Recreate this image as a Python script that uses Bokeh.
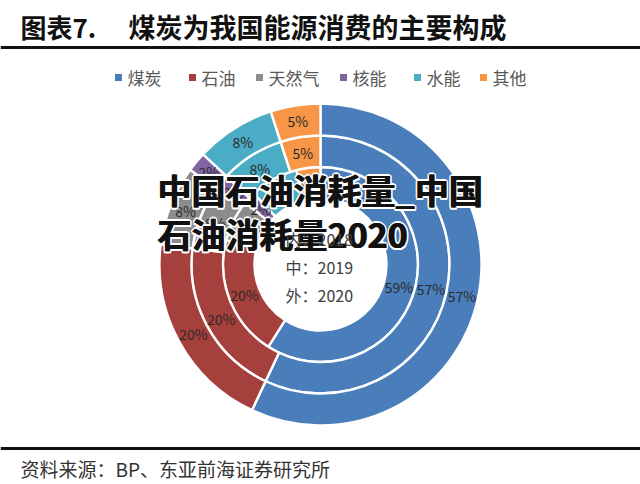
import numpy as np
from bokeh.plotting import figure
from bokeh.models import ColumnDataSource, Range1d
from bokeh.core.properties import value
from bokeh.embed import file_html
from bokeh.resources import INLINE

# ---------------- data ----------------
categories = ["煤炭", "石油", "天然气", "核能", "水能", "其他"]
years = ["2018", "2019", "2020"]
ring_names = ["内", "中", "外"]
share_2018 = [59, 20, 7, 2, 8, 4]
share_2019 = [57, 20, 8, 2, 8, 5]
share_2020 = [57, 20, 8, 2, 8, 5]
title_prefix = "图表7."
title_main = "煤炭为我国能源消费的主要构成"
source_text = "资料来源：BP、东亚前海证券研究所"
watermark_lines = ["中国石油消耗量_中国", "石油消耗量2020"]

# ---------------- style / layout ----------------
colors = ["#4A7EBB", "#A5403C", "#8C8C8C", "#8064A2", "#4BACC6", "#F79646"]
W, H = 640, 484
CX, CY = 320, H - 264
radii = [66, 97.5, 129, 161]
FONT = value("Noto Sans CJK SC")
legend_x = [118, 192, 259, 343, 417, 483]
legend_y = H - 77

p = figure(width=W, height=H, x_range=Range1d(0, W), y_range=Range1d(0, H),
           output_backend="svg", toolbar_location=None, min_border=0,
           x_axis_location=None, y_axis_location=None)
p.grid.visible = False
p.outline_line_color = None
p.background_fill_color = "white"

# ---------------- rings ----------------
all_shares = [share_2018, share_2019, share_2020]
lab_x, lab_y, lab_t = [], [], []
for i, shares in enumerate(all_shares):
    s = np.array(shares, dtype=float)
    frac = s / s.sum()
    c1 = np.cumsum(frac)
    c0 = c1 - frac
    start = np.pi / 2 - 2 * np.pi * c1
    end = np.pi / 2 - 2 * np.pi * c0
    src = ColumnDataSource(dict(start=start, end=end, color=colors, cat=categories))
    p.annular_wedge(x=CX, y=CY, inner_radius=radii[i], outer_radius=radii[i + 1],
                    start_angle="start", end_angle="end", fill_color="color",
                    line_color="white", line_width=2.4, source=src)
    mid = np.pi / 2 - 2 * np.pi * (c0 + c1) / 2
    rm = (radii[i] + radii[i + 1]) / 2
    lab_x += list(CX + rm * np.cos(mid))
    lab_y += list(CY + rm * np.sin(mid))
    lab_t += [f"{v}%" for v in shares]

p.text(x=lab_x, y=lab_y, text=lab_t, text_font=FONT, text_font_size="14px",
       text_color="#2a2a2a", text_align="center", text_baseline="middle")

# ---------------- legend ----------------
p.scatter(x=legend_x, y=[legend_y] * 6, marker="square", size=7,
          fill_color=colors, line_color=None)
p.text(x=[x + 9 for x in legend_x], y=[legend_y] * 6, text=categories, text_font=FONT,
       text_font_size="17px", text_color="#595959", text_align="left",
       text_baseline="middle")

# ---------------- title / footer ----------------
p.text(x=[20], y=[H - 26], text=[title_prefix], text_font=FONT, text_font_size="26px",
       text_font_style="bold", text_color="#111111", text_baseline="middle")
p.text(x=[128], y=[H - 26], text=[title_main], text_font=FONT, text_font_size="27px",
       text_font_style="bold", text_color="#111111", text_baseline="middle")
p.segment(x0=[0, 0], y0=[H - 47, H - 448], x1=[W, W], y1=[H - 47, H - 448],
          line_color="#111111", line_width=3)
p.text(x=[20], y=[H - 468], text=[source_text], text_font=FONT, text_font_size="19px",
       text_color="#333333", text_baseline="middle")

# ---------------- watermark (white halo + heavy black text) ----------------
wm_x = [157, 157]
wm_y = [H - 189, H - 233]
for dx, dy in [(-2, 0), (2, 0), (0, -2), (0, 2), (-1.5, -1.5), (1.5, 1.5), (-1.5, 1.5), (1.5, -1.5)]:
    p.text(x=wm_x, y=wm_y, text=watermark_lines, x_offset=dx, y_offset=dy,
           text_font=FONT, text_font_size="34px", text_font_style="bold",
           text_color="white", text_align="left", text_baseline="middle")
for dx in [-0.6, 0.6]:
    p.text(x=wm_x, y=wm_y, text=watermark_lines, x_offset=dx,
           text_font=FONT, text_font_size="34px", text_font_style="bold",
           text_color="#111111", text_align="left", text_baseline="middle")

# center labels (drawn last, as in the source image)
center_t = [f"{n}：{y}" for n, y in zip(ring_names, years)]
p.text(x=[CX - 35] * 3, y=[CY + 26, CY - 2, CY - 30], text=center_t, text_font=FONT,
       text_font_size="16px", text_color="#404040", text_align="left",
       text_baseline="middle")

open("out.html", "w").write(file_html(p, INLINE))
